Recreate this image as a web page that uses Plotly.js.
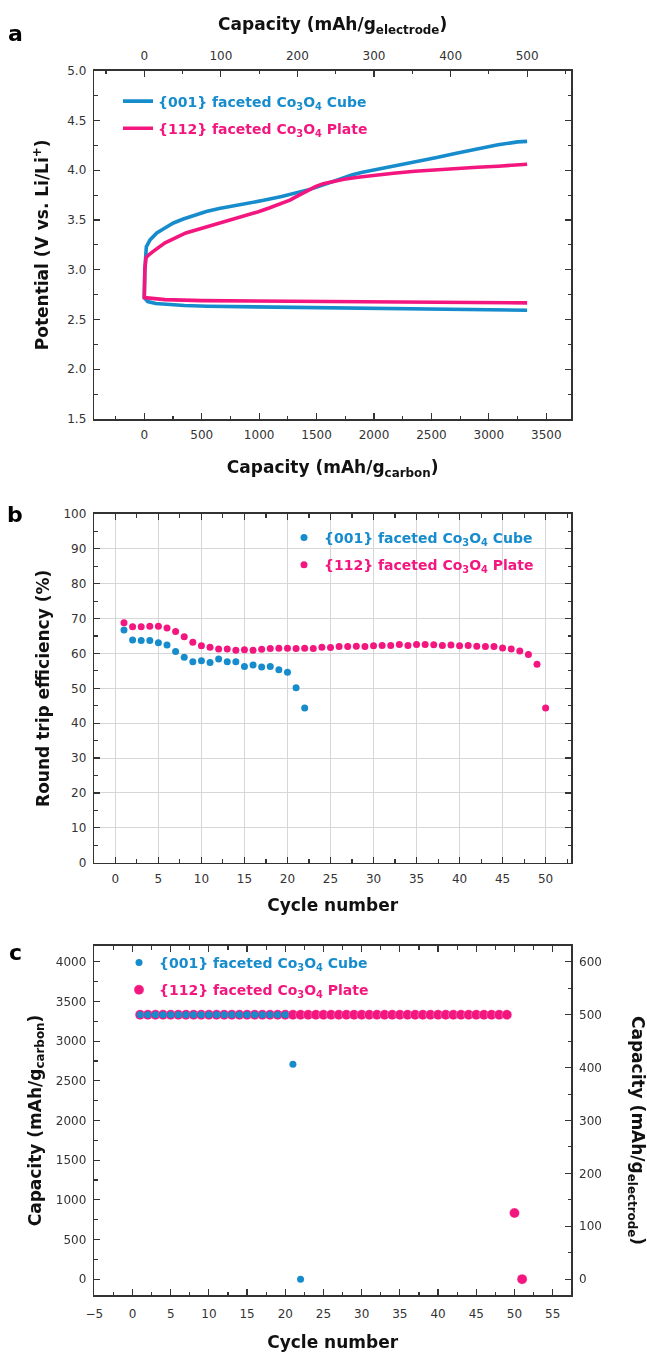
<!DOCTYPE html>
<html>
<head>
<meta charset="utf-8">
<script src="https://cdn.plot.ly/plotly-3.0.1.min.js"></script>
<style>
  html, body { margin: 0; padding: 0; background: #ffffff; }
  #chart { width: 647px; height: 1353px; }
</style>
</head>
<body>
<div id="chart"></div>
<script>
// ---------------- (a) galvanostatic profiles, capacity in mAh/g(carbon) ----------------
const cubeDischargeCap = [0, 30, 100, 180, 350, 550, 900, 1270, 1700, 2350, 2900, 3333];
const cubeDischargeV   = [2.72, 2.68, 2.66, 2.65, 2.64, 2.633, 2.625, 2.618, 2.612, 2.607, 2.598, 2.593];
const cubeChargeCap = [0, 5, 12, 18, 50, 109, 180, 254, 340, 435, 540, 652, 780, 906, 1050, 1196, 1320,
                       1449, 1540, 1630, 1720, 1812, 1900, 1993, 2170, 2355, 2536, 2717, 2898, 3080, 3250, 3333];
const cubeChargeV   = [2.72, 3.0, 3.15, 3.23, 3.30, 3.37, 3.42, 3.47, 3.51, 3.55, 3.585, 3.615, 3.64, 3.665, 3.70, 3.735, 3.77,
                       3.81, 3.845, 3.88, 3.92, 3.955, 3.98, 4.0, 4.045, 4.085, 4.125, 4.17, 4.215, 4.255, 4.285, 4.29];

const plateDischargeCap = [0, 30, 180, 500, 900, 1500, 2355, 3000, 3333];
const plateDischargeV   = [2.72, 2.71, 2.70, 2.69, 2.683, 2.678, 2.673, 2.669, 2.667];
const plateChargeCap = [0, 5, 15, 40, 72, 181, 270, 362, 450, 543, 640, 725, 815, 906, 1000, 1087, 1180, 1268,
                        1340, 1413, 1490, 1558, 1650, 1739, 1860, 1993, 2170, 2355, 2540, 2717, 2900, 3080, 3250, 3333];
const plateChargeV   = [2.72, 3.0, 3.12, 3.15, 3.18, 3.27, 3.32, 3.37, 3.40, 3.43, 3.46, 3.49, 3.52, 3.55, 3.585, 3.62, 3.66, 3.70,
                        3.745, 3.79, 3.835, 3.865, 3.89, 3.91, 3.93, 3.95, 3.97, 3.99, 4.005, 4.02, 4.03, 4.04, 4.055, 4.06];

// ---------------- (b) round trip efficiency (%) per cycle ----------------
const cubeCycles = [1, 2, 3, 4, 5, 6, 7, 8, 9, 10, 11, 12, 13, 14, 15, 16, 17, 18, 19, 20, 21, 22];
const cubeEfficiency = [66.7, 63.9, 63.7, 63.7, 63.1, 62.4, 60.6, 58.9, 57.6, 57.9, 57.4, 58.4, 57.6, 57.6,
                        56.3, 56.7, 56.1, 56.3, 55.3, 54.6, 50.2, 44.4];
const plateCycles = [1, 2, 3, 4, 5, 6, 7, 8, 9, 10, 11, 12, 13, 14, 15, 16, 17, 18, 19, 20, 21, 22, 23, 24, 25,
                     26, 27, 28, 29, 30, 31, 32, 33, 34, 35, 36, 37, 38, 39, 40, 41, 42, 43, 44, 45, 46, 47, 48, 49, 50];
const plateEfficiency = [68.8, 67.7, 67.7, 67.8, 67.8, 67.3, 66.3, 64.8, 63.2, 62.2, 61.8, 61.3, 61.3, 60.9, 61.1,
                         60.9, 61.2, 61.4, 61.5, 61.5, 61.4, 61.5, 61.4, 61.8, 61.7, 62.0, 62.0, 62.1, 62.0, 62.2,
                         62.3, 62.3, 62.6, 62.3, 62.6, 62.6, 62.5, 62.3, 62.4, 62.2, 62.3, 62.1, 62.0, 62.0, 61.6,
                         61.3, 60.7, 59.7, 56.9, 44.4];

// ---------------- (c) discharge capacity per cycle, mAh/g(carbon) ----------------
const cubeCapCycles = [1, 2, 3, 4, 5, 6, 7, 8, 9, 10, 11, 12, 13, 14, 15, 16, 17, 18, 19, 20, 21, 22];
const cubeCapacity = [3333, 3333, 3333, 3333, 3333, 3333, 3333, 3333, 3333, 3333, 3333, 3333, 3333, 3333,
                      3333, 3333, 3333, 3333, 3333, 3333, 2710, 0];
const plateCapCycles = [1, 2, 3, 4, 5, 6, 7, 8, 9, 10, 11, 12, 13, 14, 15, 16, 17, 18, 19, 20, 21, 22, 23, 24, 25,
                        26, 27, 28, 29, 30, 31, 32, 33, 34, 35, 36, 37, 38, 39, 40, 41, 42, 43, 44, 45, 46, 47, 48,
                        49, 50, 51];
const plateCapacity = [3333, 3333, 3333, 3333, 3333, 3333, 3333, 3333, 3333, 3333, 3333, 3333, 3333, 3333, 3333,
                       3333, 3333, 3333, 3333, 3333, 3333, 3333, 3333, 3333, 3333, 3333, 3333, 3333, 3333, 3333,
                       3333, 3333, 3333, 3333, 3333, 3333, 3333, 3333, 3333, 3333, 3333, 3333, 3333, 3333, 3333,
                       3333, 3333, 3333, 3333, 833, 0];

// series labels
const cubeLabel  = '{001} faceted Co<sub>3</sub>O<sub>4</sub> Cube';
const plateLabel = '{112} faceted Co<sub>3</sub>O<sub>4</sub> Plate';

// 500 mAh/g(electrode) corresponds to 3333 mAh/g(carbon)
const CARBON_PER_ELECTRODE = 20 / 3;
const toElectrode = v => v / CARBON_PER_ELECTRODE;

// ---------------- styling ----------------
const W = 647, H = 1353;
const px = v => v / W;          // pixel column -> paper x
const py = v => 1 - v / H;      // pixel row (from top) -> paper y

const BLUE = '#178ccc';
const PINK = '#f3167f';
const AX = '#333333';
const FONT = 'DejaVu Sans, Verdana, sans-serif';
const tickFont = { family: FONT, size: 12, color: AX };
const titleFont = { family: FONT, size: 17, color: '#111111', weight: 'bold' };
const legendFont = { family: FONT, size: 14, weight: 'bold' };
const panelFont = { family: FONT, size: 22, color: '#000000', weight: 'bold' };

const colored = (txt, c) => '<span style="color:' + c + '">' + txt + '</span>';

function frame(extra) {
  return Object.assign({
    showline: true, linecolor: AX, linewidth: 1.6,
    ticks: 'inside', ticklen: 6, tickwidth: 1.2, tickcolor: AX,
    tickfont: tickFont, ticklabelstandoff: 4,
    showgrid: false, zeroline: false, automargin: false, fixedrange: true
  }, extra);
}
const minor = d => ({ dtick: d, ticks: 'inside', ticklen: 3.5, tickwidth: 1.1, tickcolor: AX, showgrid: false });

const xDom = [px(94.3), px(571)];
const aDom = [py(419), py(70.7)];
const bDom = [py(862.7), py(514)];
const cDom = [py(1295), py(946)];

const aRange = [-435, 3715];
const cLeftRange = [-200, 4200];

// ---------------- traces ----------------
const traces = [
  // (a) discharge followed by charge, joined at zero capacity
  {
    x: cubeDischargeCap.slice().reverse().concat(cubeChargeCap),
    y: cubeDischargeV.slice().reverse().concat(cubeChargeV),
    type: 'scatter', mode: 'lines', xaxis: 'x', yaxis: 'y',
    line: { color: BLUE, width: 3.6 },
    name: colored(cubeLabel, BLUE), legend: 'legend', legendgroup: 'a1'
  },
  {
    x: plateDischargeCap.slice().reverse().concat(plateChargeCap),
    y: plateDischargeV.slice().reverse().concat(plateChargeV),
    type: 'scatter', mode: 'lines', xaxis: 'x', yaxis: 'y',
    line: { color: PINK, width: 3.6 },
    name: colored(plateLabel, PINK), legend: 'legend', legendgroup: 'a2'
  },
  // same cube profile in electrode units, carrying the top capacity scale (not shown)
  {
    x: cubeChargeCap.map(toElectrode), y: cubeChargeV,
    type: 'scatter', mode: 'lines', xaxis: 'x2', yaxis: 'y',
    line: { width: 0 }, opacity: 0, showlegend: false, hoverinfo: 'skip'
  },
  // (b) efficiency
  {
    x: cubeCycles, y: cubeEfficiency, type: 'scatter', mode: 'markers',
    xaxis: 'x3', yaxis: 'y3',
    marker: { color: BLUE, size: 7 },
    name: colored(cubeLabel, BLUE), legend: 'legend2', legendgroup: 'b1'
  },
  {
    x: plateCycles, y: plateEfficiency, type: 'scatter', mode: 'markers',
    xaxis: 'x3', yaxis: 'y3',
    marker: { color: PINK, size: 7 },
    name: colored(plateLabel, PINK), legend: 'legend2', legendgroup: 'b2'
  },
  // (c) capacity — plate underneath, cube on top
  {
    x: plateCapCycles, y: plateCapacity, type: 'scatter', mode: 'markers',
    xaxis: 'x4', yaxis: 'y4',
    marker: { color: PINK, size: 10, line: { color: 'rgba(255,255,255,0.5)', width: 0.6 } },
    name: colored(plateLabel, PINK), legend: 'legend3', legendgroup: 'c2', legendrank: 2
  },
  {
    x: cubeCapCycles, y: cubeCapacity, type: 'scatter', mode: 'markers',
    xaxis: 'x4', yaxis: 'y4',
    marker: { color: BLUE, size: 7 },
    name: colored(cubeLabel, BLUE), legend: 'legend3', legendgroup: 'c1', legendrank: 1
  },
  // plate capacities in electrode units, carrying the right-hand scale (not shown)
  {
    x: plateCapCycles, y: plateCapacity.map(toElectrode), type: 'scatter', mode: 'markers',
    xaxis: 'x4', yaxis: 'y5',
    marker: { size: 1 }, opacity: 0, showlegend: false, hoverinfo: 'skip'
  }
];

// ---------------- layout ----------------
const legendBase = {
  xanchor: 'left', yanchor: 'top', bgcolor: 'rgba(0,0,0,0)', borderwidth: 0,
  font: legendFont, tracegroupgap: 6, traceorder: 'grouped'
};

const layout = {
  width: W, height: H,
  margin: { l: 0, r: 0, t: 0, b: 0 },
  paper_bgcolor: '#ffffff', plot_bgcolor: 'rgba(0,0,0,0)',
  font: { family: FONT, color: AX },
  showlegend: true,

  // (a)
  xaxis: frame({
    domain: xDom, anchor: 'y', range: aRange, tick0: 0, dtick: 500, minor: minor(250),
    title: { text: 'Capacity (mAh/g<sub>carbon</sub>)', font: titleFont, standoff: 20 }
  }),
  xaxis2: frame({
    overlaying: 'x', anchor: 'y', side: 'top',
    range: aRange.map(toElectrode), tick0: 0, dtick: 100, minor: minor(50),
    title: { text: 'Capacity (mAh/g<sub>electrode</sub>)', font: titleFont, standoff: 14 }
  }),
  yaxis: frame({
    domain: aDom, anchor: 'x', range: [1.5, 5.0], tick0: 0, dtick: 0.5, tickformat: '.1f',
    minor: minor(0.25), mirror: 'ticks',
    title: { text: 'Potential (V vs. Li/Li<sup>+</sup>)', font: titleFont, standoff: 14 }
  }),

  // (b)
  xaxis3: frame({
    domain: xDom, anchor: 'y3', range: [-2.45, 52.95], tick0: 0, dtick: 5, minor: minor(2.5),
    mirror: 'ticks', showgrid: true, gridcolor: '#d6d6d6', gridwidth: 1,
    title: { text: 'Cycle number', font: titleFont, standoff: 14 }
  }),
  yaxis3: frame({
    domain: bDom, anchor: 'x3', range: [0, 100], tick0: 0, dtick: 10, minor: minor(5),
    mirror: 'ticks', showgrid: true, gridcolor: '#d6d6d6', gridwidth: 1,
    title: { text: 'Round trip efficiency (%)', font: titleFont, standoff: 9 }
  }),

  // (c)
  xaxis4: frame({
    domain: xDom, anchor: 'y4', range: [-5, 57.4], tick0: 0, dtick: 5, minor: minor(2.5),
    mirror: 'ticks', ticklabelstandoff: 7,
    title: { text: 'Cycle number', font: titleFont, standoff: 16 }
  }),
  yaxis4: frame({
    domain: cDom, anchor: 'x4', range: cLeftRange, tick0: 0, dtick: 500, minor: minor(250),
    title: { text: 'Capacity (mAh/g<sub>carbon</sub>)', font: titleFont, standoff: 10 }
  }),
  yaxis5: frame({
    overlaying: 'y4', anchor: 'x4', side: 'right',
    range: cLeftRange.map(toElectrode), tick0: 0, dtick: 100, minor: minor(50)
  }),

  legend:  Object.assign({}, legendBase, { x: px(118), y: py(85.5) }),
  legend2: Object.assign({}, legendBase, { x: px(284), y: py(522) }),
  legend3: Object.assign({}, legendBase, { x: px(119), y: py(947) }),

  shapes: [
    // white panel behind the (b) legend, hiding the grid there
    { type: 'rect', xref: 'paper', yref: 'paper', layer: 'between',
      x0: px(262), x1: px(555), y0: py(587), y1: py(515),
      fillcolor: '#ffffff', line: { width: 0 } }
  ],

  annotations: [
    { text: 'a', xref: 'paper', yref: 'paper', x: px(15), y: py(33), xanchor: 'center', yanchor: 'middle',
      showarrow: false, font: panelFont },
    { text: 'b', xref: 'paper', yref: 'paper', x: px(15), y: py(514), xanchor: 'center', yanchor: 'middle',
      showarrow: false, font: panelFont },
    { text: 'c', xref: 'paper', yref: 'paper', x: px(15), y: py(952), xanchor: 'center', yanchor: 'middle',
      showarrow: false, font: panelFont },
    // right-hand axis title of (c), reading downwards
    { text: 'Capacity (mAh/g<sub>electrode</sub>)', xref: 'paper', yref: 'paper',
      x: px(637), y: py(1130), xanchor: 'center', yanchor: 'middle', textangle: 90,
      showarrow: false, font: titleFont }
  ]
};

Plotly.newPlot('chart', traces, layout, { staticPlot: true, displayModeBar: false });
</script>
</body>
</html>
